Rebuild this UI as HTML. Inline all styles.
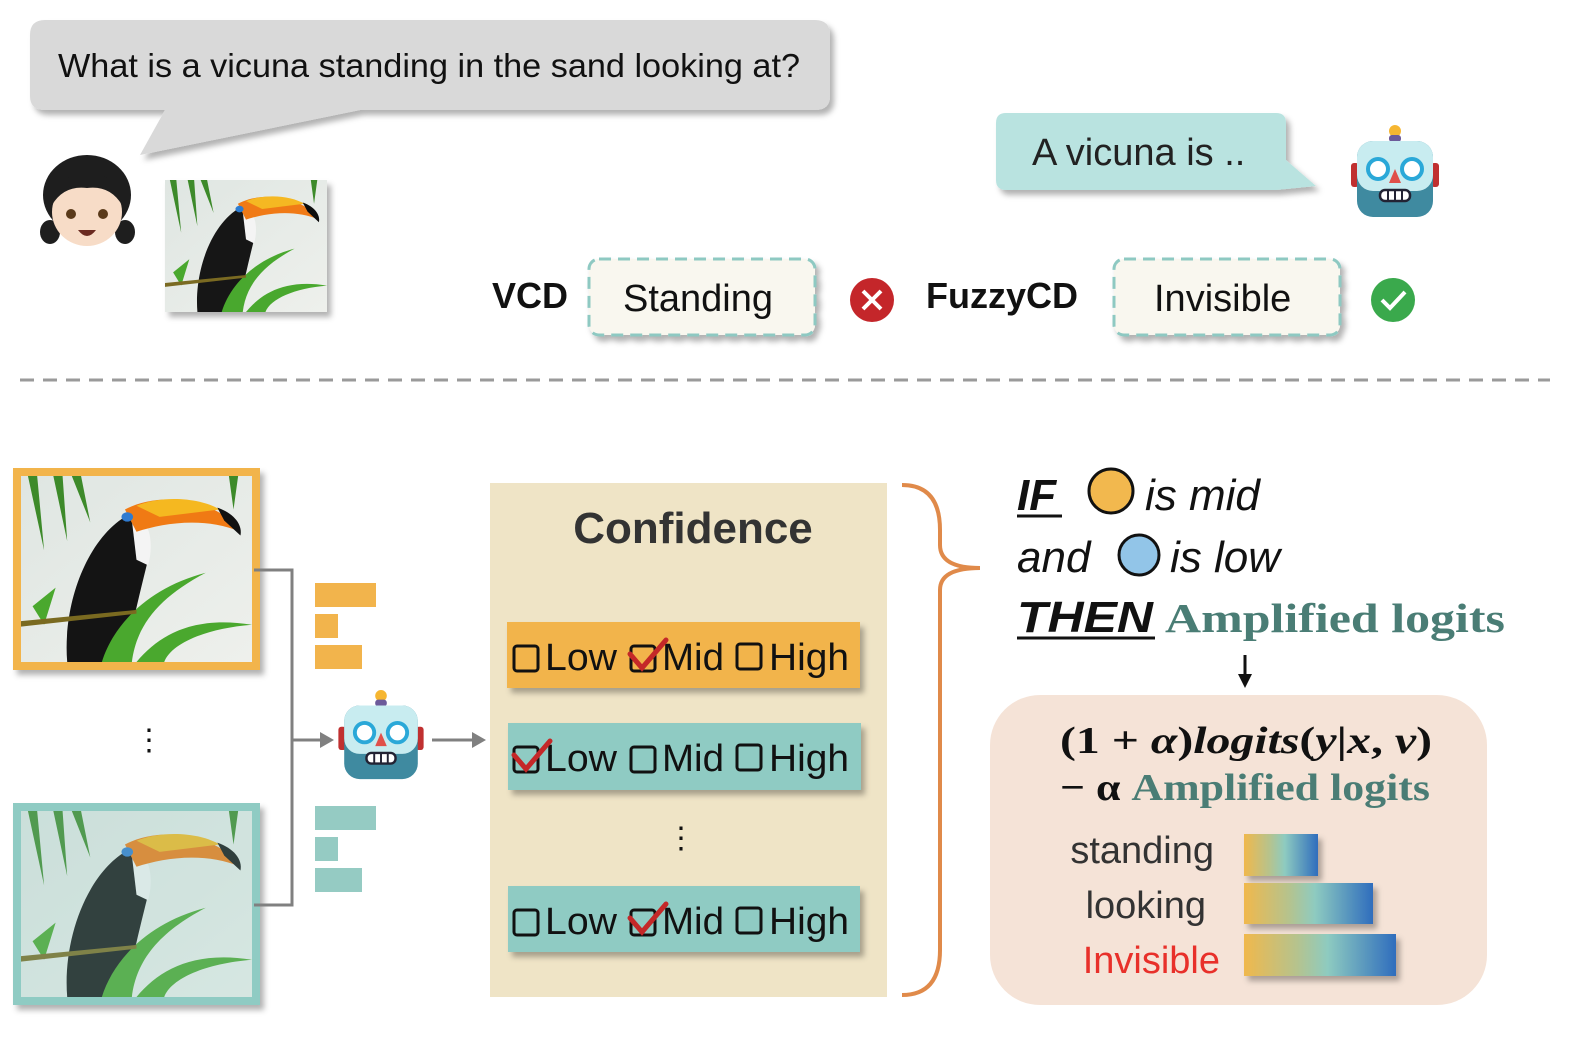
<!DOCTYPE html>
<html><head><meta charset="utf-8"><style>
html,body{margin:0;padding:0;background:#fff;overflow:hidden;width:1584px;height:1048px;}
svg{display:block;}
</style></head><body>
<svg width="1584" height="1048" viewBox="0 0 1584 1048" xmlns="http://www.w3.org/2000/svg" font-family="'Liberation Sans', sans-serif">
<defs>
<filter id="sh" x="-10%" y="-10%" width="130%" height="140%"><feDropShadow dx="4" dy="5" stdDeviation="3" flood-color="#000" flood-opacity="0.3"/></filter>
<linearGradient id="bg" x1="0" x2="1"><stop offset="0" stop-color="#f0b84c"/><stop offset="0.35" stop-color="#b5c38e"/><stop offset="0.55" stop-color="#8ecbc0"/><stop offset="1" stop-color="#2f6dbd"/></linearGradient>
<linearGradient id="paint" x1="0" y1="0" x2="1" y2="1"><stop offset="0" stop-color="#dfe6e2"/><stop offset="1" stop-color="#eef0ec"/></linearGradient>
<symbol id="toucan" viewBox="0 0 100 100" preserveAspectRatio="none">
<rect width="100" height="100" fill="url(#paint)"/>
<path d="M3 0 L10 40 L7 0Z M14 0 L20 35 L18 0Z M22 0 L30 25 L26 0Z M90 0 L92 18 L94 0Z" fill="#3d8a2a"/>
<path d="M20 100 C18 70 28 35 45 22 C52 18 58 30 55 45 C52 60 48 80 45 100Z" fill="#141414"/>
<path d="M48 24 C55 20 58 35 55 48 L50 45 Z" fill="#f4f4f4"/>
<path d="M45 18 C60 8 85 12 95 30 C80 22 62 25 50 30Z" fill="#f07a14"/>
<path d="M50 16 C62 10 78 12 86 18 L60 22Z" fill="#f5b820"/>
<path d="M85 17 C92 20 96 26 95 32 L88 24Z" fill="#111"/>
<circle cx="46" cy="22" r="2.5" fill="#2f7bd0"/>
<path d="M35 100 C40 80 55 60 80 52 C60 65 50 80 48 100Z M50 100 C60 85 75 75 100 80 C80 82 65 90 62 100Z M5 70 L15 60 L10 80Z" fill="#4aa82e"/>
<path d="M0 78 L50 72 L50 74 L0 81Z" fill="#7a6a20"/>
</symbol>
<symbol id="robot" viewBox="0 0 90 95">
<circle cx="45" cy="6" r="6" fill="#f6b631"/>
<rect x="39" y="10" width="12" height="7" rx="3" fill="#6c5a9a"/>
<rect x="1" y="38" width="8" height="24" rx="3" fill="#c03030"/>
<rect x="81" y="38" width="8" height="24" rx="3" fill="#c03030"/>
<rect x="7" y="16" width="76" height="76" rx="16" fill="#3f8aa0"/>
<rect x="7" y="16" width="76" height="50" rx="16" fill="#c8ecf0"/>
<circle cx="28" cy="44" r="10" fill="#fff" stroke="#2aa8d8" stroke-width="4"/>
<circle cx="62" cy="44" r="10" fill="#fff" stroke="#2aa8d8" stroke-width="4"/>
<path d="M45 44 L51 58 L39 58Z" fill="#e0504a"/>
<rect x="30" y="65" width="30" height="11" rx="5" fill="#fff" stroke="#223" stroke-width="2.5"/>
<path d="M38 65v11M45 65v11M52 65v11" stroke="#223" stroke-width="2"/>
</symbol>
</defs>

<g filter="url(#sh)">
<path d="M45 20 H815 Q830 20 830 35 V96 Q830 110 815 110 H360 L140 155 L165 110 H45 Q30 110 30 96 V35 Q30 20 45 20Z" fill="#d9d9d9"/>
</g>
<text x="58" y="77" font-size="33" fill="#111" textLength="742" lengthAdjust="spacingAndGlyphs">What is a vicuna standing in the sand looking at?</text>

<g>
<ellipse cx="87" cy="195" rx="44" ry="40" fill="#1e1e1e"/>
<ellipse cx="50" cy="232" rx="10" ry="12" fill="#1e1e1e"/>
<ellipse cx="125" cy="232" rx="10" ry="12" fill="#1e1e1e"/>
<ellipse cx="87" cy="212" rx="35" ry="34" fill="#f7dcc7"/>
<path d="M52 205 Q60 170 87 175 Q115 170 122 205 Q110 185 87 188 Q64 185 52 205Z" fill="#1e1e1e"/>
<circle cx="71" cy="214" r="5" fill="#5a3a1a"/>
<circle cx="103" cy="214" r="5" fill="#5a3a1a"/>
<path d="M78 230 Q87 242 96 230Z" fill="#6a2a20"/>
</g>
<g filter="url(#sh)"><use href="#toucan" x="165" y="180" width="162" height="132"/></g>

<g filter="url(#sh)">
<path d="M1006 113 H1276 Q1286 113 1286 123 V160 L1316 186 L1276 190 H1006 Q996 190 996 180 V123 Q996 113 1006 113Z" fill="#b9e3e0"/>
</g>
<text x="1032" y="165" font-size="38" fill="#222">A vicuna is ..</text>
<use href="#robot" x="1350" y="125" width="90" height="95"/>

<text x="492" y="308" font-size="36" font-weight="bold" fill="#111">VCD</text>
<g filter="url(#sh)"><rect x="589" y="259" width="226" height="76" rx="10" fill="#f9f7ef" stroke="#8ec9c2" stroke-width="3" stroke-dasharray="12 7"/></g>
<text x="623" y="311" font-size="38" fill="#111">Standing</text>
<circle cx="872" cy="300" r="22" fill="#c4262a"/>
<path d="M863 291 L881 309 M881 291 L863 309" stroke="#fff" stroke-width="4"/>
<text x="926" y="308" font-size="36" font-weight="bold" fill="#111">FuzzyCD</text>
<g filter="url(#sh)"><rect x="1114" y="259" width="226" height="76" rx="10" fill="#f9f7ef" stroke="#8ec9c2" stroke-width="3" stroke-dasharray="12 7"/></g>
<text x="1154" y="311" font-size="38" fill="#111">Invisible</text>
<circle cx="1393" cy="300" r="22" fill="#3aa94c"/>
<path d="M1382 300 L1390 308 L1405 292" stroke="#fff" stroke-width="4" fill="none"/>

<line x1="20" y1="380" x2="1550" y2="380" stroke="#9a9a9a" stroke-width="3" stroke-dasharray="14 9"/>

<g filter="url(#sh)"><rect x="13" y="468" width="247" height="202" fill="#f2b44c"/></g>
<use href="#toucan" x="21" y="476" width="231" height="186"/>
<g filter="url(#sh)"><rect x="13" y="803" width="247" height="202" fill="#8fcbc3"/></g>
<use href="#toucan" x="21" y="811" width="231" height="186" opacity="0.75"/>
<text x="134" y="750" font-size="30" fill="#111">⋮</text>

<path d="M254 570 H292 V905 H254" fill="none" stroke="#808080" stroke-width="3"/>
<path d="M292 740 H322" stroke="#808080" stroke-width="3"/>
<path d="M320 732 L334 740 L320 748Z" fill="#808080"/>
<rect x="315" y="583" width="61" height="24" fill="#f2b44c"/>
<rect x="315" y="614" width="23" height="24" fill="#f2b44c"/>
<rect x="315" y="645" width="47" height="24" fill="#f2b44c"/>
<rect x="315" y="806" width="61" height="24" fill="#95cbc3"/>
<rect x="315" y="837" width="23" height="24" fill="#95cbc3"/>
<rect x="315" y="868" width="47" height="24" fill="#95cbc3"/>
<use href="#robot" x="336" y="690" width="90" height="92"/>
<path d="M432 740 H474" stroke="#808080" stroke-width="3"/>
<path d="M472 732 L486 740 L472 748Z" fill="#808080"/>

<rect x="490" y="483" width="397" height="514" fill="#efe4c6"/>
<text x="693" y="543" font-size="44" font-weight="bold" fill="#333" text-anchor="middle">Confidence</text>
<g filter="url(#sh)">
<rect x="507" y="622" width="353" height="66" fill="#f2b44c"/>
<rect x="508" y="723" width="353" height="67" fill="#8fcbc3"/>
<rect x="508" y="886" width="352" height="66" fill="#8fcbc3"/>
</g>
<g font-size="38" fill="#111">
<g id="row1">
<rect x="514" y="646" width="24" height="25" rx="3" fill="none" stroke="#111" stroke-width="3"/>
<text x="545" y="670" textLength="72" lengthAdjust="spacingAndGlyphs">Low</text>
<rect x="631" y="646" width="24" height="25" rx="3" fill="none" stroke="#111" stroke-width="3"/>
<text x="662" y="670" textLength="62" lengthAdjust="spacingAndGlyphs">Mid</text>
<rect x="737" y="644" width="24" height="25" rx="3" fill="none" stroke="#111" stroke-width="3"/>
<text x="769" y="670" textLength="80" lengthAdjust="spacingAndGlyphs">High</text>
</g>
<use href="#row1" y="101"/>
<use href="#row1" y="264"/>
</g>
<g fill="none" stroke="#c42828" stroke-width="5" stroke-linecap="round">
<path d="M630 654 L642 668 L666 640"/>
<path d="M514 755 L526 769 L550 741"/>
<path d="M630 918 L642 932 L666 904"/>
</g>
<text x="666" y="848" font-size="30" fill="#111">⋮</text>

<path d="M902 485 Q940 485 940 530 V545 Q940 568 980 568 Q940 568 940 590 V950 Q940 995 902 995" fill="none" stroke="#e08a4a" stroke-width="4"/>

<g font-style="italic" font-size="44" fill="#111">
<text x="1017" y="510" font-weight="bold">IF</text>
<line x1="1017" y1="516" x2="1062" y2="516" stroke="#111" stroke-width="3"/>
<circle cx="1111" cy="491" r="22" fill="#f2b84e" stroke="#111" stroke-width="3"/>
<text x="1145" y="510">is mid</text>
<text x="1017" y="572">and</text>
<circle cx="1139" cy="555" r="20" fill="#92c5e8" stroke="#111" stroke-width="3"/>
<text x="1170" y="572">is low</text>
<text x="1017" y="632" font-weight="bold" textLength="136" lengthAdjust="spacingAndGlyphs">THEN</text>
<line x1="1017" y1="638" x2="1155" y2="638" stroke="#111" stroke-width="3"/>
</g>
<text x="1165" y="632" font-family="'Liberation Serif', serif" font-weight="bold" font-size="41" fill="#4a7d75" textLength="340" lengthAdjust="spacingAndGlyphs">Amplified logits</text>
<path d="M1245 655 V678" stroke="#111" stroke-width="3"/>
<path d="M1238 674 L1245 688 L1252 674Z" fill="#111"/>

<rect x="990" y="695" width="497" height="310" rx="50" fill="#f5e3d7"/>
<text x="1060" y="753" font-family="'Liberation Serif', serif" font-weight="bold" font-size="38" fill="#111" textLength="372" lengthAdjust="spacingAndGlyphs">(1 + <tspan font-style="italic">α</tspan>)<tspan font-style="italic">logits</tspan>(<tspan font-style="italic">y</tspan>|<tspan font-style="italic">x</tspan>, <tspan font-style="italic">v</tspan>)</text>
<text x="1060" y="800" font-family="'Liberation Serif', serif" font-weight="bold" font-size="38" fill="#111" textLength="370" lengthAdjust="spacingAndGlyphs">− α <tspan fill="#4a7d75">Amplified logits</tspan></text>
<text x="1214" y="863" font-size="38" fill="#333" text-anchor="end">standing</text>
<text x="1206" y="918" font-size="38" fill="#333" text-anchor="end">looking</text>
<text x="1220" y="973" font-size="38" fill="#e8302a" text-anchor="end">Invisible</text>
<g filter="url(#sh)">
<rect x="1244" y="834" width="74" height="42" fill="url(#bg)"/>
<rect x="1244" y="883" width="129" height="41" fill="url(#bg)"/>
<rect x="1244" y="934" width="152" height="42" fill="url(#bg)"/>
</g>
</svg>
</body></html>
